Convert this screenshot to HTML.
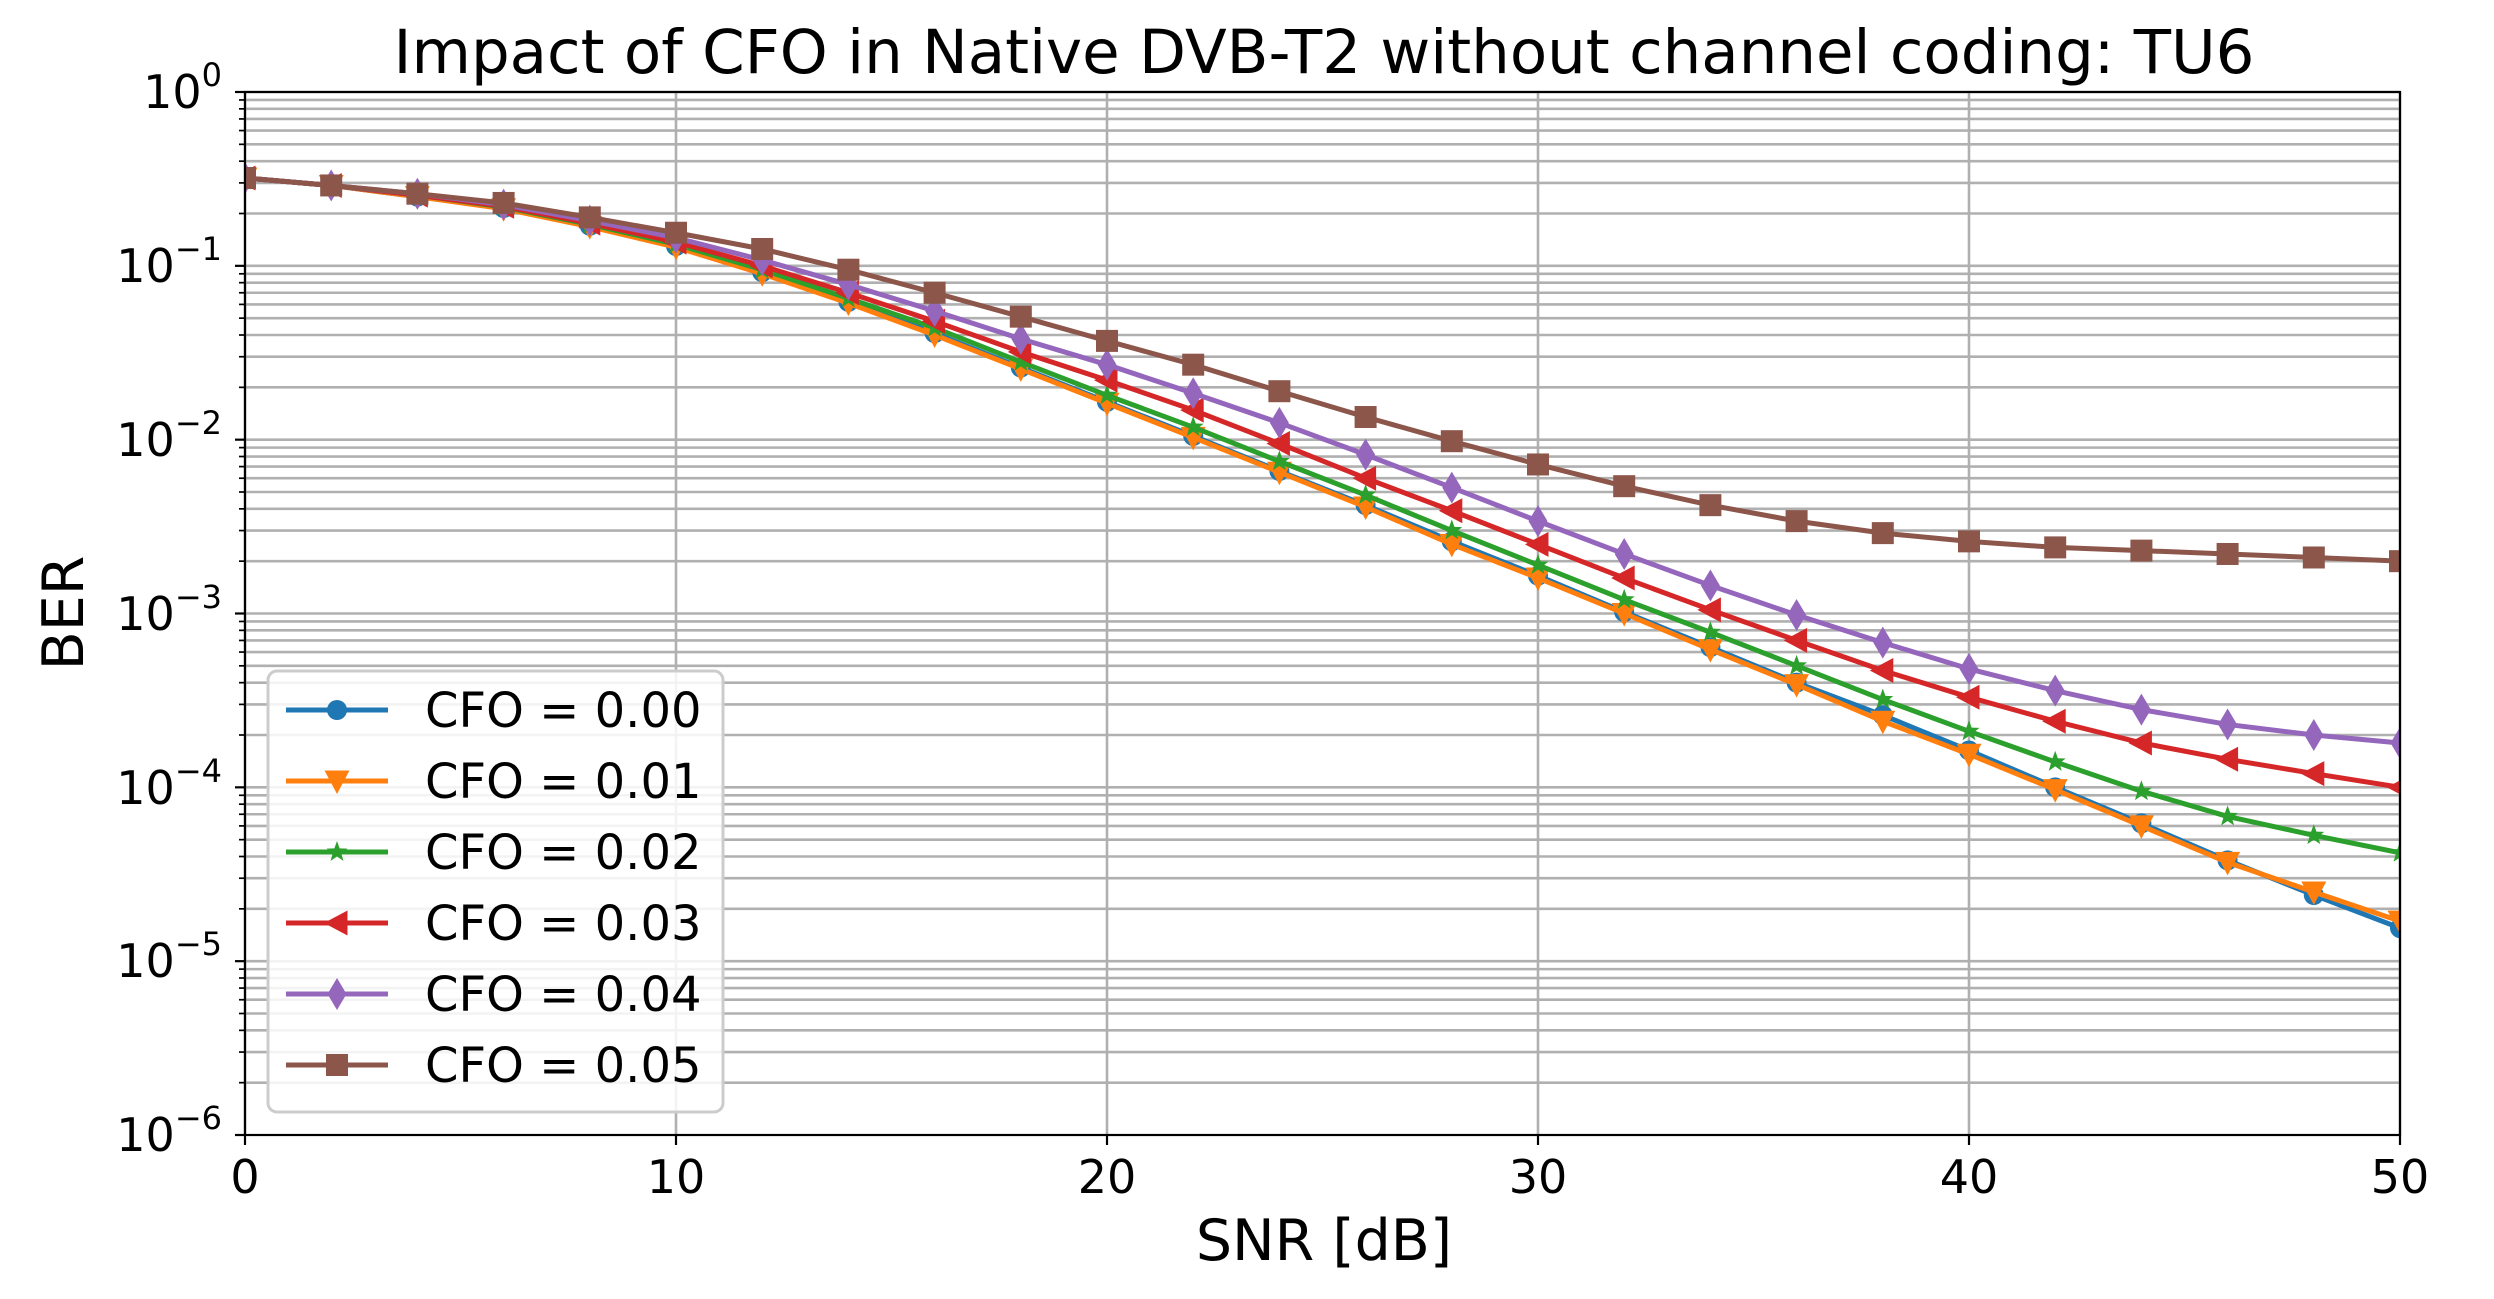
<!DOCTYPE html>
<html><head><meta charset="utf-8"><style>
html,body{margin:0;padding:0;background:#fff}
svg{display:block}
text{font-family:"DejaVu Sans","Liberation Sans",sans-serif;fill:#000}
</style></head><body>
<svg id="s" width="2494" height="1299" viewBox="0 0 2494 1299" xmlns="http://www.w3.org/2000/svg">
<rect width="2494" height="1299" fill="#fff"/>
<g id="grid"></g>
<g id="series"></g>
<g id="axes"></g>
<text x="1324" y="73" font-size="61" text-anchor="middle">Impact of CFO in Native DVB-T2 without channel coding: TU6</text>
<g font-size="46" text-anchor="middle">
<text x="245" y="1193">0</text><text x="676" y="1193">10</text><text x="1107" y="1193">20</text>
<text x="1538" y="1193">30</text><text x="1969" y="1193">40</text><text x="2400" y="1193">50</text>
</g>
<g font-size="46" text-anchor="end">
<text x="222" y="108">10<tspan font-size="32" dy="-22">0</tspan></text>
<text x="222" y="282">10<tspan font-size="32" dy="-22">−1</tspan></text>
<text x="222" y="456">10<tspan font-size="32" dy="-22">−2</tspan></text>
<text x="222" y="630">10<tspan font-size="32" dy="-22">−3</tspan></text>
<text x="222" y="804">10<tspan font-size="32" dy="-22">−4</tspan></text>
<text x="222" y="977">10<tspan font-size="32" dy="-22">−5</tspan></text>
<text x="222" y="1151">10<tspan font-size="32" dy="-22">−6</tspan></text>
</g>
<text x="1324" y="1260" font-size="57" text-anchor="middle">SNR [dB]</text>
<text transform="translate(83,613) rotate(-90)" font-size="57" text-anchor="middle">BER</text>
<g id="legend">
<rect x="268" y="671" width="455" height="441" rx="9" fill="#fff" fill-opacity="0.85" stroke="#cccccc" stroke-width="3"/>
</g>
<g font-size="48" id="ltext">
<text x="425" y="727">CFO = 0.00</text>
<text x="425" y="798">CFO = 0.01</text>
<text x="425" y="869">CFO = 0.02</text>
<text x="425" y="940">CFO = 0.03</text>
<text x="425" y="1011">CFO = 0.04</text>
<text x="425" y="1082">CFO = 0.05</text>
</g>
</svg>
<script>
var NS="http://www.w3.org/2000/svg";
var L=245,R=2400,T=92,B=1135,D=(B-T)/6;
function X(v){return L+(R-L)*v/50}
function Y(v){return T+(-Math.log10(v))*D}
function el(p,n,a){var e=document.createElementNS(NS,n);for(var k in a)e.setAttribute(k,a[k]);p.appendChild(e);return e}
var g=document.getElementById('grid'),ax=document.getElementById('axes');
for(var d=0;d<6;d++)for(var m=1;m<=9;m++){
 var yy=(m==1)?T+d*D:T+(d+1)*D-Math.log10(m)*D;
 el(g,'line',{x1:L,x2:R,y1:yy,y2:yy,stroke:'#b0b0b0','stroke-width':2.6});
 el(ax,'line',{x1:L,x2:L-(m==1?10:6),y1:yy,y2:yy,stroke:'#000','stroke-width':(m==1?2.2:1.7)});}
el(ax,'line',{x1:L,x2:L-10,y1:B,y2:B,stroke:'#000','stroke-width':2.2});
for(var i=0;i<=5;i++){var x=X(i*10);el(g,'line',{x1:x,x2:x,y1:T,y2:B,stroke:'#b0b0b0','stroke-width':2.6});
 el(ax,'line',{x1:x,x2:x,y1:B,y2:B+10,stroke:'#000','stroke-width':2.2});}
el(ax,'rect',{x:L,y:T,width:R-L,height:B-T,fill:'none',stroke:'#000','stroke-width':2.2});
var S=[
['#1f77b4','o',[0.32,0.29,0.25,0.215,0.17,0.13,0.092,0.062,0.041,0.026,0.0165,0.0105,0.0066,0.0042,0.0026,0.00165,0.00102,0.00064,0.0004,0.00026,0.000163,0.0001,0.000062,0.000038,0.000024,0.0000155]],
['#ff7f0e','v',[0.32,0.29,0.25,0.213,0.168,0.128,0.09,0.061,0.04,0.0255,0.0162,0.0103,0.0065,0.0041,0.0025,0.0016,0.001,0.00062,0.00039,0.00024,0.000155,0.000097,0.00006,0.000037,0.000025,0.000017]],
['#2ca02c','*',[0.32,0.29,0.255,0.218,0.173,0.133,0.095,0.065,0.044,0.028,0.018,0.0118,0.0075,0.0048,0.003,0.0019,0.0012,0.00078,0.0005,0.00032,0.00021,0.00014,0.000095,0.000068,0.000053,0.000042]],
['#d62728','<',[0.32,0.29,0.255,0.22,0.176,0.137,0.1,0.07,0.048,0.032,0.022,0.0148,0.0095,0.006,0.0039,0.0025,0.0016,0.00105,0.0007,0.00047,0.00033,0.00024,0.00018,0.000145,0.00012,0.0001]],
['#9467bd','d',[0.32,0.29,0.26,0.225,0.182,0.145,0.108,0.078,0.055,0.038,0.027,0.0185,0.0125,0.0082,0.0053,0.0034,0.0022,0.00145,0.00098,0.00068,0.00048,0.00036,0.00028,0.00023,0.0002,0.00018]],
['#8c564b','s',[0.32,0.29,0.26,0.23,0.19,0.155,0.125,0.095,0.07,0.051,0.037,0.027,0.019,0.0135,0.0098,0.0072,0.0054,0.0042,0.0034,0.0029,0.0026,0.0024,0.0023,0.0022,0.0021,0.002]]];
function mk(p,t,x,y,c){var r=10;
 if(t=='o')el(p,'circle',{cx:x,cy:y,r:r,fill:c});
 else if(t=='v')el(p,'polygon',{points:[x-r*1.25,y-r*1.05,x+r*1.25,y-r*1.05,x,y+r*1.3].join(','),fill:c});
 else if(t=='<')el(p,'polygon',{points:[x-r*1.3,y,x+r*1.05,y-r*1.25,x+r*1.05,y+r*1.25].join(','),fill:c});
 else if(t=='d')el(p,'polygon',{points:[x,y-r*1.6,x+r*0.95,y,x,y+r*1.6,x-r*0.95,y].join(','),fill:c});
 else if(t=='s')el(p,'rect',{x:x-r*1.1,y:y-r*1.1,width:r*2.2,height:r*2.2,fill:c});
 else if(t=='*'){var pts=[];for(var k=0;k<10;k++){var a=-Math.PI/2+k*Math.PI/5,rr=(k%2?0.45:1.1)*r;pts.push(x+rr*Math.cos(a),y+rr*Math.sin(a));}el(p,'polygon',{points:pts.join(','),fill:c});}}
var sg=document.getElementById('series');
var clip=el(document.getElementById('s'),'clipPath',{id:'cp'});el(clip,'rect',{x:L,y:T,width:R-L,height:B-T});
sg.setAttribute('clip-path','url(#cp)');
S.forEach(function(s){var pts=s[2].map(function(v,i){return X(i*2)+','+Y(v)});
 el(sg,'polyline',{points:pts.join(' '),fill:'none',stroke:s[0],'stroke-width':5,'stroke-linejoin':'round'});
 s[2].forEach(function(v,i){mk(sg,s[1],X(i*2),Y(v),s[0])});});
var lg=document.getElementById('legend');
S.forEach(function(s,i){var y=710+i*71;el(lg,'line',{x1:286,x2:388,y1:y,y2:y,stroke:s[0],'stroke-width':5});mk(lg,s[1],337,y,s[0]);});
</script>
</body></html>
